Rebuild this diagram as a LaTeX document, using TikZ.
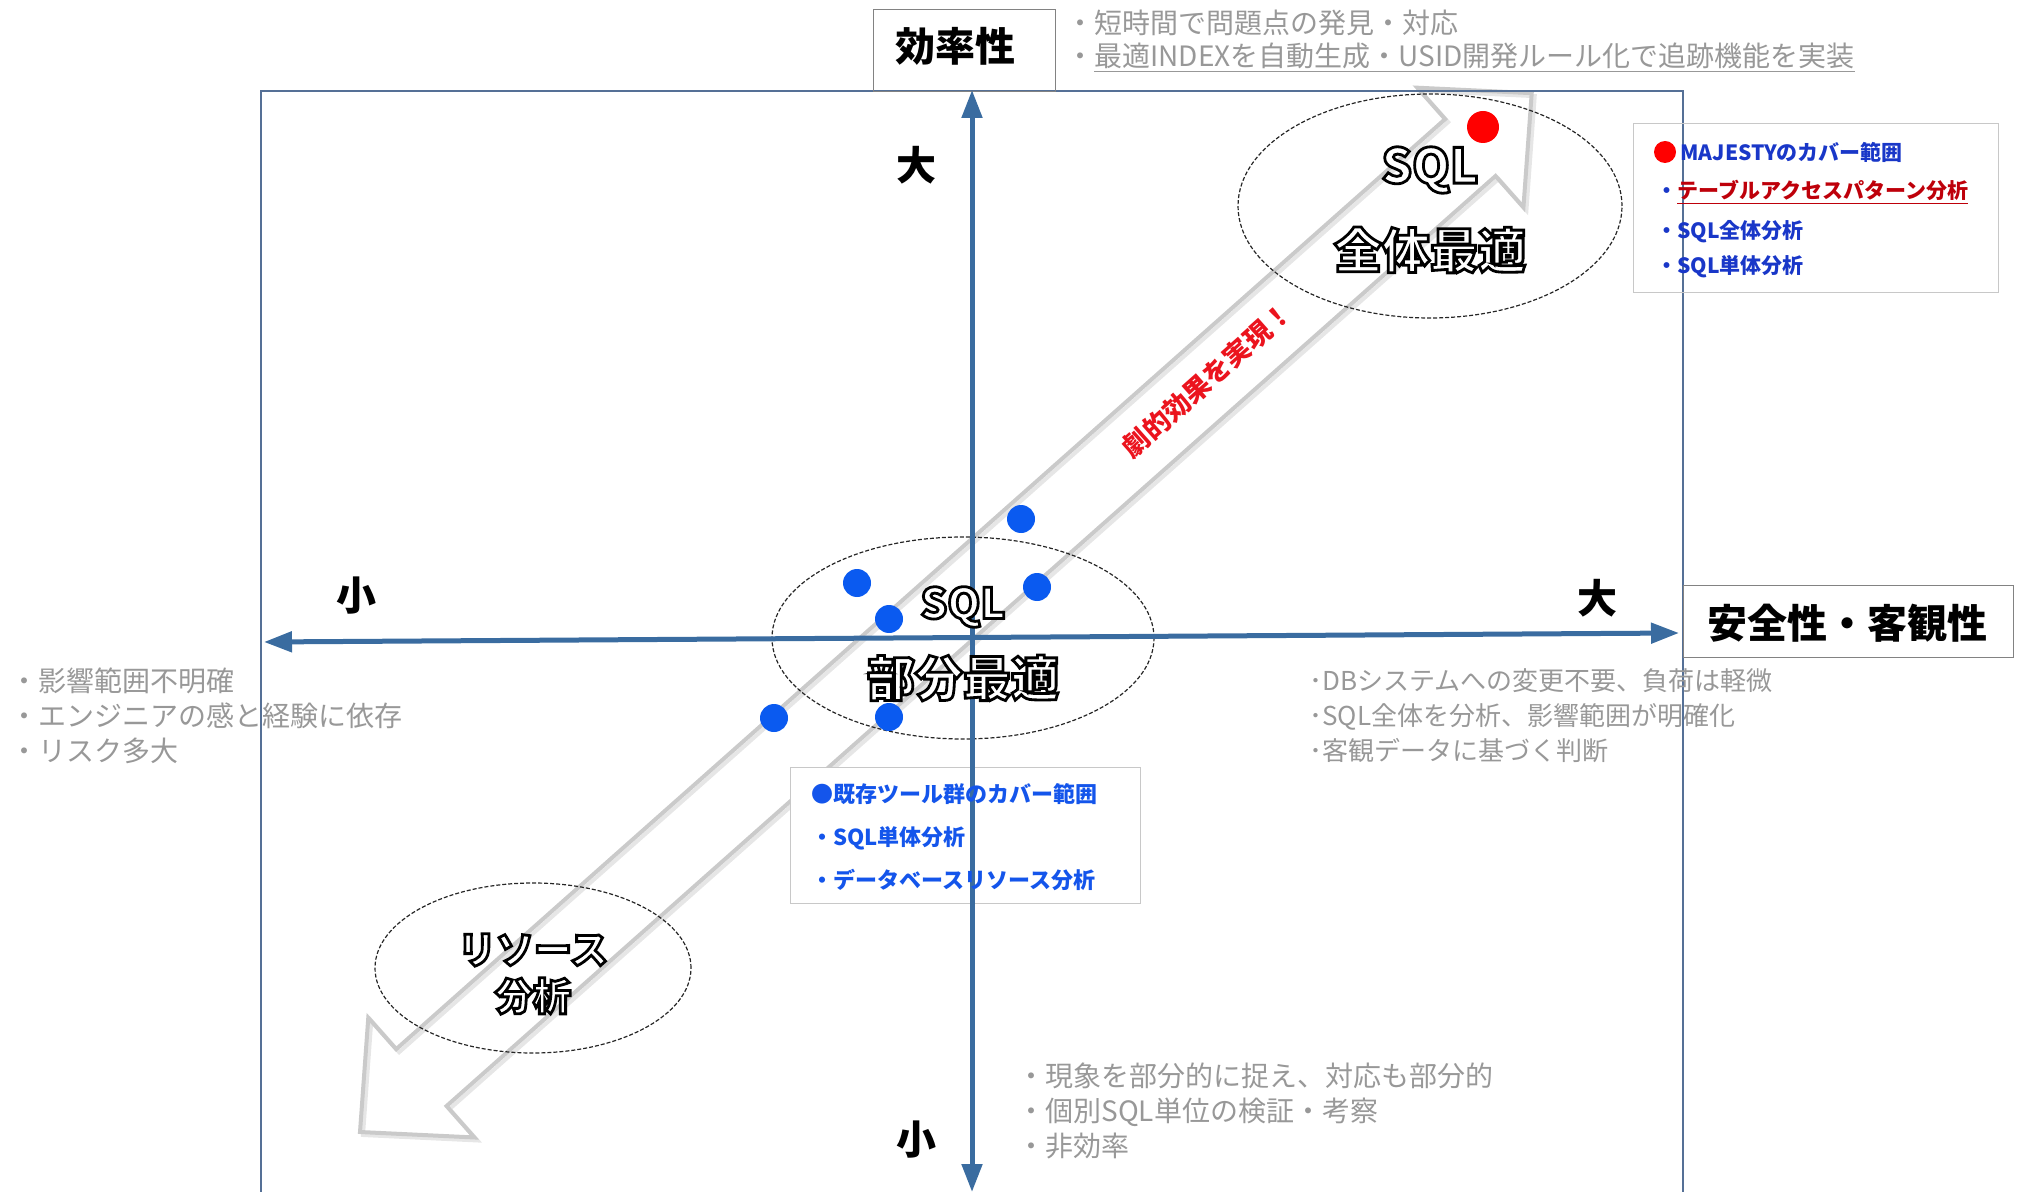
\documentclass[tikz,border=0pt]{standalone}
\usepackage{fontspec}
\newfontfamily\jp{Noto Sans CJK JP}
\usetikzlibrary{arrows.meta,calc,shapes.geometric}
\definecolor{axisblue}{RGB}{58,108,160}
\definecolor{rectblue}{RGB}{85,112,150}
\definecolor{tgray}{RGB}{152,152,152}
\definecolor{arrowgray}{RGB}{202,202,202}
\definecolor{arrowshadow}{RGB}{230,230,230}
\definecolor{boxgray}{RGB}{130,130,130}
\definecolor{leggray}{RGB}{200,200,200}
\definecolor{dotblue}{RGB}{10,90,240}
\definecolor{legblue}{RGB}{25,55,200}
\definecolor{legblueb}{RGB}{20,85,235}
\definecolor{darkred}{RGB}{190,0,10}
\definecolor{effred}{RGB}{235,20,30}
% outlined text: white fill, black stroke (PDF text render mode 2)
\newcommand\outlined[1]{\special{pdf:literal direct 0 0 0 RG 1.4 w 2 Tr}#1\special{pdf:literal direct 0 Tr}}
\tikzset{
  axisline/.style={line width=2.5pt, draw=axisblue},
  rectline/.style={line width=1pt, draw=rectblue},
  biglbl/.style={font=\jp\bfseries\fontsize{20}{24}\selectfont, inner sep=0},
  gtxt/.style={font=\jp\fontsize{14}{17.5}\selectfont, text=tgray, anchor=west, align=left, inner sep=0},
  gtxtr/.style={font=\jp\fontsize{13}{17.5}\selectfont, text=tgray, anchor=west, align=left, inner sep=0},
  legtxt/.style={font=\jp\bfseries\fontsize{10.5}{13}\selectfont, anchor=west, inner sep=0},
  legtxtb/.style={font=\jp\bfseries\fontsize{11}{13}\selectfont, anchor=west, inner sep=0, text=legblueb},
  dotb/.style={circle, fill=dotblue, minimum size=14pt, inner sep=0},
  ellnode/.style={ellipse, draw=black!85, dash pattern=on 2pt off 1pt, line width=0.6pt, inner sep=0},
  boxnode/.style={draw=boxgray, line width=0.7pt, inner sep=0, anchor=north west},
  legbox/.style={draw=leggray, line width=0.7pt, inner sep=0, anchor=north west},
  hollowarrow/.style={line width=2pt, line join=miter},
  olbig/.style={font=\jp\bfseries\fontsize{24}{28}\selectfont, text=white, inner sep=0},
  olmid/.style={font=\jp\bfseries\fontsize{21}{25}\selectfont, text=white, inner sep=0},
  olsmall/.style={font=\jp\bfseries\fontsize{19}{23}\selectfont, text=white, inner sep=0},
}
\begin{document}
\begin{tikzpicture}[x=0.5pt,y=-0.5pt]
\useasboundingbox (0,0) rectangle (2018,1192);

% big hollow double arrow
\begin{scope}[shift={(363,1135)}, rotate=41.56]
  \draw[hollowarrow, draw=arrowshadow] (0,0) -- (82,80) -- (82,38) -- (1484,38) -- (1484,80) -- (1566,0) -- (1484,-80) -- (1484,-38) -- (82,-38) -- (82,-80) -- cycle;
\end{scope}
\begin{scope}[shift={(360,1132)}, rotate=41.56]
  \draw[hollowarrow, draw=arrowgray] (0,0) -- (82,80) -- (82,38) -- (1484,38) -- (1484,80) -- (1566,0) -- (1484,-80) -- (1484,-38) -- (82,-38) -- (82,-80) -- cycle;
\end{scope}

% frame
\coordinate (rbl) at (261,1192);
\coordinate (rtl) at (261,91);
\coordinate (rtr) at (1683,91);
\coordinate (rbr) at (1683,1192);
\draw[rectline] (rbl) -- (rtl) -- (rtr) -- (rbr);

% ellipses
\node[ellnode, minimum width=192pt, minimum height=112pt] (ellall) at (1430,206) {};
\node[ellnode, minimum width=191pt, minimum height=101pt] (ellpart) at (963,638) {};
\node[ellnode, minimum width=158pt, minimum height=85pt] (ellres) at (533,968) {};

% axis label boxes
\node[boxnode, minimum width=91pt, minimum height=41pt] (effbox) at (873,9) {};
\node[biglbl] (efflbl) at (955,46) {効率性};
\node[boxnode, minimum width=165pt, minimum height=36pt, fill=white] (safebox) at (1683,585) {};
\node[biglbl] (safelbl) at (1847,623) {安全性・客観性};

% legend boxes
\node[legbox, minimum width=182.5pt, minimum height=84.5pt] (majbox) at (1633,123) {};
\node[legbox, minimum width=175pt, minimum height=68pt, fill=white] (kzbox) at (790,767) {};

% axes
\coordinate (vtop) at (972,90);
\coordinate (vbot) at (972,1192);
\coordinate (hl) at (264,642);
\coordinate (hr) at (1679,633);
\draw[axisline, {Triangle[length=14pt,width=10pt]}-{Triangle[length=14pt,width=10pt]}] (vbot) -- (vtop);
\draw[axisline, {Triangle[length=14pt,width=10pt]}-{Triangle[length=14pt,width=10pt]}] (hl) -- (hr);

% axis labels
\node[biglbl] (bigtop) at (916,165) {大};
\node[biglbl] (smallbot) at (916,1140) {小};
\node[biglbl] (smallleft) at (356,596) {小};
\node[biglbl] (bigright) at (1597,598) {大};

% dots
\node[dotb] (d1) at (857,583) {};
\node[dotb] (d2) at (889,619) {};
\node[dotb] (d3) at (1021,519) {};
\node[dotb] (d4) at (1037,587) {};
\node[dotb] (d5) at (774,718) {};
\node[dotb] (d6) at (889,717) {};
\node[circle, fill=red, minimum size=16pt, inner sep=0] (rdot) at (1483,127) {};

% ellipse texts (outlined)
\node[olbig] (sqlall) at (1430,170) {\outlined{SQL}};
\node[olbig] (optall) at (1430,250) {\outlined{全体最適}};
\node[olmid] (sqlpart) at (963,607) {\outlined{SQL}};
\node[olbig] (optpart) at (963,678) {\outlined{部分最適}};
\node[olsmall] (res1) at (533,950) {\outlined{リソース}};
\node[olsmall] (res2) at (533,996) {\outlined{分析}};

% arrow text
\node[font=\jp\bfseries\fontsize{13.5}{16}\selectfont, text=effred, rotate=41.56, inner sep=0] (effect) at (1207,380) {劇的効果を実現！};

% gray descriptions
\node[gtxt] (topg1) at (1066,23) {・短時間で問題点の発見・対応};
\node[gtxt] (topg2) at (1066,58) {・\underline{最適INDEXを自動生成・USID開発ルール化で追跡機能を実装}};
\node[gtxt] (leftg) at (10,716) {・影響範囲不明確\\・エンジニアの感と経験に依存\\・リスク多大};
\node[gtxtr] (rightg) at (1309,716) {･DBシステムへの変更不要、負荷は軽微\\･SQL全体を分析、影響範囲が明確化\\･客観データに基づく判断};
\node[gtxt] (botg) at (1017,1111) {・現象を部分的に捉え、対応も部分的\\・個別SQL単位の検証・考察\\・非効率};

% MAJESTY legend
\node[circle, fill=red, minimum size=11pt, inner sep=0] (majdot) at (1665,152) {};
\node[legtxt, text=legblue] (maj1) at (1680,152) {MAJESTYのカバー範囲};
\node[legtxt, text=darkred] (maj2) at (1656,192) {{\color{legblue}・}\underline{テーブルアクセスパターン分析}};
\node[legtxt, text=legblue] (maj3) at (1656,232) {・SQL全体分析};
\node[legtxt, text=legblue] (maj4) at (1656,267) {・SQL単体分析};

% existing tools legend
\node[legtxtb] (kz1) at (811,794) {●既存ツール群のカバー範囲};
\node[legtxtb] (kz2) at (811,838) {・SQL単体分析};
\node[legtxtb] (kz3) at (811,880) {・データベースリソース分析};
\end{tikzpicture}
\end{document}
